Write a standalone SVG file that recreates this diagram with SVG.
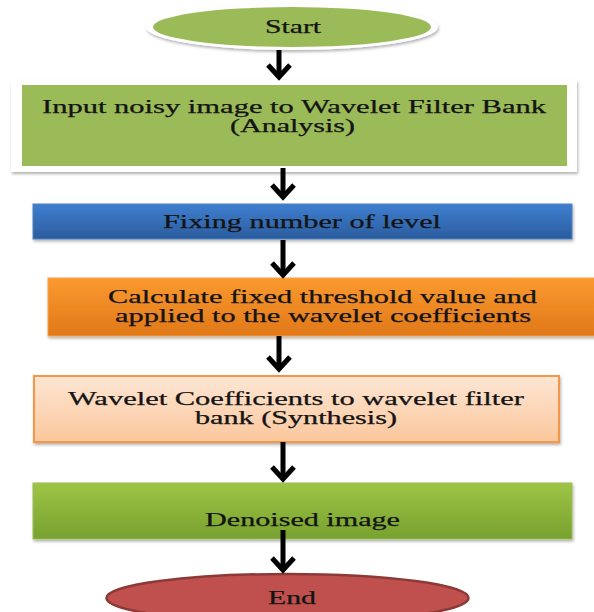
<svg xmlns="http://www.w3.org/2000/svg" width="594" height="612" viewBox="0 0 594 612">
<defs>
<style>
text{font-family:"Liberation Serif","Times New Roman",serif;font-size:18px;fill:#141414;stroke:#141414;stroke-width:0.25;text-anchor:start}
.conn{stroke:#000;stroke-width:5;fill:none}
</style>
<filter id="sh" x="-10%" y="-20%" width="120%" height="150%">
<feDropShadow dx="1" dy="2" stdDeviation="1.6" flood-color="#000" flood-opacity="0.3"/>
</filter>
<marker id="ah" viewBox="-18 -16 22 32" refX="0" refY="0" markerWidth="22" markerHeight="32" markerUnits="userSpaceOnUse" orient="auto">
<path d="M -12 -11 L 0 0 L -12 11" fill="none" stroke="#000" stroke-width="5" stroke-linejoin="miter"/>
</marker>
<linearGradient id="gBlue" x1="0" y1="0" x2="0" y2="1"><stop offset="0" stop-color="#3f7fd0"/><stop offset="1" stop-color="#2b5c9e"/></linearGradient>
<linearGradient id="gOrange" x1="0" y1="0" x2="0" y2="1"><stop offset="0" stop-color="#fb9a30"/><stop offset="1" stop-color="#e07818"/></linearGradient>
<linearGradient id="gPeach" x1="0" y1="0" x2="0" y2="1"><stop offset="0" stop-color="#fde6d4"/><stop offset="1" stop-color="#fbc79c"/></linearGradient>
<linearGradient id="gGreen" x1="0" y1="0" x2="0" y2="1"><stop offset="0" stop-color="#9fc546"/><stop offset="1" stop-color="#77a12f"/></linearGradient>
</defs>
<rect width="594" height="612" fill="#fff"/>

<g id="start">
<ellipse cx="292" cy="27" rx="146" ry="23" fill="#fff" filter="url(#sh)"/>
<ellipse cx="292" cy="27" rx="139" ry="20" fill="#9bbb59"/>
<text x="265" y="33" textLength="56" lengthAdjust="spacingAndGlyphs">Start</text>
</g>

<g id="input">
<rect x="11" y="80" width="566" height="92" fill="#fff" filter="url(#sh)"/>
<rect x="22" y="85" width="545" height="81" fill="#9bbb59"/>
<text x="42" y="113" textLength="504" lengthAdjust="spacingAndGlyphs">Input noisy image to Wavelet Filter Bank</text>
<text x="230" y="132" textLength="125" lengthAdjust="spacingAndGlyphs">(Analysis)</text>
</g>

<g id="levels">
<rect x="33" y="204" width="539" height="35" fill="url(#gBlue)" stroke="#4f81bd" stroke-width="1" filter="url(#sh)"/>
<text x="163" y="228" textLength="278" lengthAdjust="spacingAndGlyphs">Fixing number of level</text>
</g>

<g id="threshold">
<rect x="48" y="278" width="550" height="58" fill="url(#gOrange)" stroke="#f7a04a" stroke-width="1" filter="url(#sh)"/>
<text x="108" y="303" textLength="429" lengthAdjust="spacingAndGlyphs">Calculate fixed threshold value and</text>
<text x="115" y="322" textLength="416" lengthAdjust="spacingAndGlyphs">applied to the wavelet coefficients</text>
</g>

<g id="synthesis">
<rect x="34" y="376" width="525" height="66" fill="url(#gPeach)" stroke="#f79646" stroke-width="2" filter="url(#sh)"/>
<text x="68" y="405" textLength="456" lengthAdjust="spacingAndGlyphs">Wavelet Coefficients to wavelet filter</text>
<text x="195" y="424" textLength="202" lengthAdjust="spacingAndGlyphs">bank (Synthesis)</text>
</g>

<g id="denoised">
<rect x="33" y="483" width="539" height="56" fill="url(#gGreen)" stroke="#9bbb59" stroke-width="1" filter="url(#sh)"/>
<text x="205" y="526" textLength="195" lengthAdjust="spacingAndGlyphs">Denoised image</text>
</g>

<g id="end">
<ellipse cx="287.5" cy="598" rx="181" ry="24" fill="#c0504d" stroke="#8c3a37" stroke-width="2.5"/>
<text x="268" y="604" textLength="48" lengthAdjust="spacingAndGlyphs">End</text>
</g>

<g id="connectors">
<path class="conn" d="M 279 50 L 279 77" marker-end="url(#ah)"/>
<path class="conn" d="M 283 168 L 283 197" marker-end="url(#ah)"/>
<path class="conn" d="M 283 240 L 283 275" marker-end="url(#ah)"/>
<path class="conn" d="M 279 336 L 279 369" marker-end="url(#ah)"/>
<path class="conn" d="M 283 442 L 283 479" marker-end="url(#ah)"/>
<path class="conn" d="M 283 530 L 283 570" marker-end="url(#ah)"/>
</g>
</svg>
